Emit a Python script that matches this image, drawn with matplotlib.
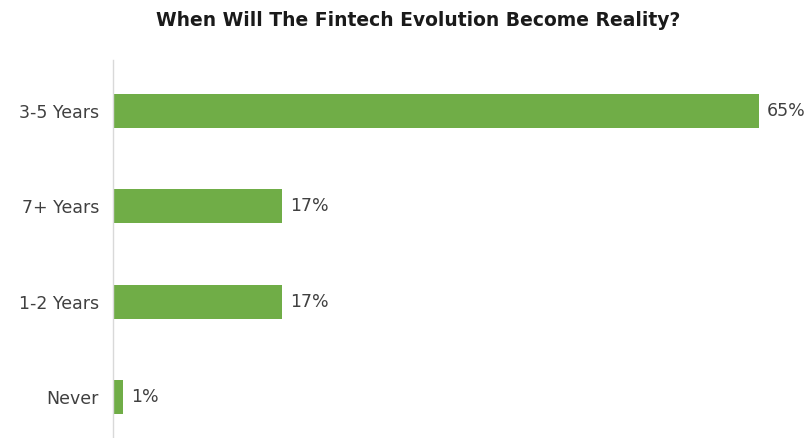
import matplotlib.pyplot as plt

# Survey responses
categories = ['3-5 Years', '7+ Years', '1-2 Years', 'Never']
shares = [65, 17, 17, 1]

plt.rcParams['font.family'] = ['DejaVu Sans']

fig = plt.figure(figsize=(8.07, 4.38), dpi=100)
ax = fig.add_axes([113 / 807, 0.0, 694 / 807, 378 / 438])

pos = range(len(categories))
ax.barh(pos, shares, height=0.36, color='#70AD47')

# value labels just past the bar ends
for y, v in zip(pos, shares):
    ax.text(v + 0.8, y, f'{v}%', va='center', ha='left', fontsize=12.5, color='#404040')

ax.set_yticks(list(pos))
ax.set_yticklabels(categories, fontsize=12.5, color='#404040')
ax.set_xlim(0, 69.8)
ax.set_ylim(3.43, -0.535)
ax.set_xticks([])
ax.tick_params(axis='y', length=0, pad=10)

for side in ['top', 'right', 'bottom']:
    ax.spines[side].set_visible(False)
ax.spines['left'].set_color('#d9d9d9')
ax.spines['left'].set_linewidth(1)

fig.text(0.518, 0.953, 'When Will The Fintech Evolution Become Reality?',
         ha='center', va='center', fontsize=13.5, fontweight='bold', color='#1a1a1a')

fig.savefig('out.png', dpi=100)
